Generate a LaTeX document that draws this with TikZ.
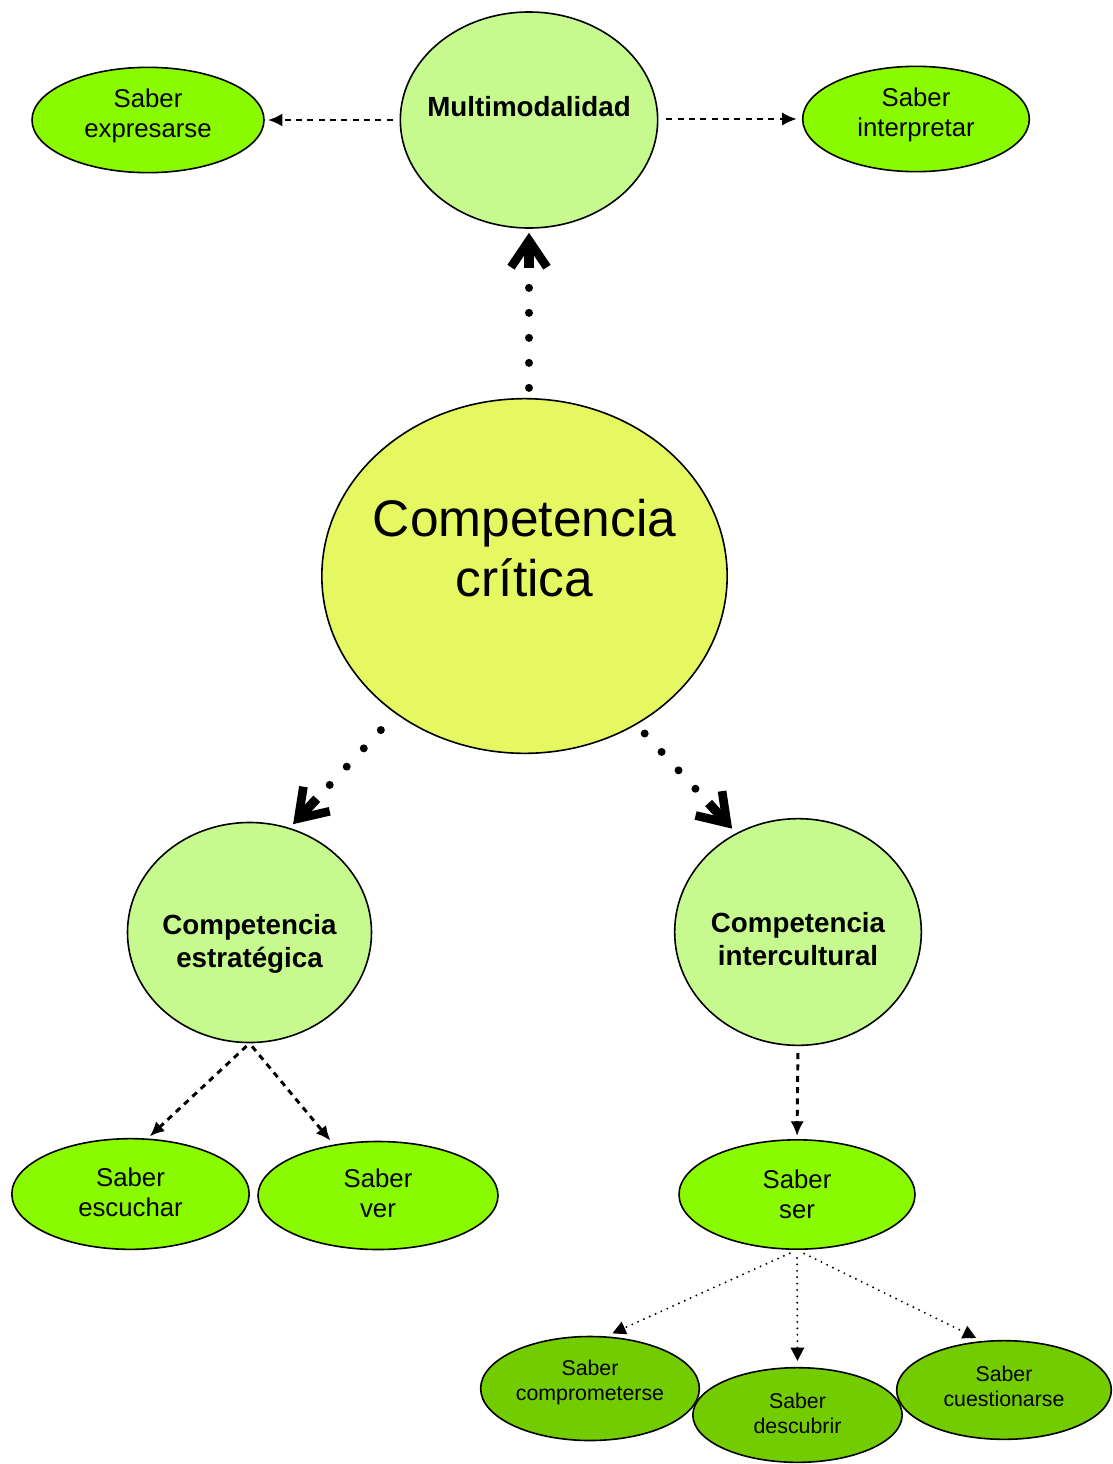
\documentclass[tikz,border=0pt]{standalone}
\usepackage{fontspec}
\setmainfont{Liberation Sans}
\usetikzlibrary{shapes.geometric, arrows.meta, positioning, shapes}
\definecolor{pale}{RGB}{198,250,142}
\definecolor{lime}{RGB}{137,250,0}
\definecolor{core}{RGB}{229,248,98}
\definecolor{moss}{RGB}{115,204,0}

\begin{document}
\begin{tikzpicture}[x=0.75pt, y=-0.75pt]
\tikzstyle{bubble} = [ellipse, draw, line width=1.2pt, inner sep=0pt]
\tikzstyle{txt} = [font=\fontsize{19.3}{22.5}\selectfont, align=center]
\tikzstyle{boldtxt} = [font=\bfseries\fontsize{20.8}{24.7}\selectfont, align=center]
\tikzstyle{bigtxt} = [font=\fontsize{38.6}{45}\selectfont, align=center]
\tikzstyle{smalltxt} = [font=\fontsize{16}{19}\selectfont, align=center]
\tikzstyle{dashline} = [draw, line width=2.2pt, dash pattern=on 4.5pt off 4pt, -{Latex[length=11pt, width=10pt]}]
\tikzstyle{bigdots} = [draw, line width=6pt, line cap=round, dash pattern=on 0pt off 18.75pt,
    -{Rectangle[length=16pt, width=5pt, sep=-19pt] Straight Barb[length=20pt, width=27pt, line width=6.5pt]}]
\tikzstyle{dots} = [draw, line width=1.6pt, line cap=round, dash pattern=on 0pt off 4.8pt,
    -{Triangle[length=10pt, width=10pt]}]
    \path[fill=white, use as bounding box] (0,0) rectangle (1113,1464);

    % Place nodes
    \node [bubble, fill=core, minimum width=304pt, minimum height=266pt,
        label={[bigtxt, yshift=21pt]center:Competencia\\crítica}] (critica) at (524.5,576) {};
    \node [bubble, fill=pale, minimum width=193pt, minimum height=162pt,
        label={[boldtxt, yshift=9.75pt]center:Multimodalidad}] (multi) at (529,120) {};
    \node [bubble, fill=lime, minimum width=174pt, minimum height=79pt,
        label={[txt, yshift=3pt]center:Saber\\expresarse}] (expresarse) at (148,120) {};
    \node [bubble, fill=lime, minimum width=170pt, minimum height=79pt,
        label={[txt, yshift=3pt]center:Saber\\interpretar}] (interpretar) at (916,119) {};
    \node [bubble, fill=pale, minimum width=183pt, minimum height=165pt,
        label={[boldtxt, yshift=-8.25pt]center:Competencia\\estratégica}] (estrategica) at (249.5,932.5) {};
    \node [bubble, fill=pale, minimum width=185pt, minimum height=170pt,
        label={[boldtxt, yshift=-5.25pt]center:Competencia\\intercultural}] (intercultural) at (798,932) {};
    \node [bubble, fill=lime, minimum width=178pt, minimum height=83pt,
        label={[txt, yshift=1.5pt]center:Saber\\escuchar}] (escuchar) at (130.5,1194) {};
    \node [bubble, fill=lime, minimum width=180pt, minimum height=81pt,
        label={[txt, yshift=1.5pt]center:Saber\\ver}] (ver) at (378,1195.5) {};
    \node [bubble, fill=lime, minimum width=177pt, minimum height=82pt,
        label={[txt]center:Saber\\ser}] (ser) at (797,1194.5) {};
    \node [bubble, fill=moss, minimum width=164pt, minimum height=78pt,
        label={[smalltxt, yshift=4.5pt]center:Saber\\comprometerse}] (comprometerse) at (590,1388.5) {};
    \node [bubble, fill=moss, minimum width=157pt, minimum height=71pt,
        label={[smalltxt, yshift=1pt]center:Saber\\descubrir}] (descubrir) at (797.5,1415) {};
    \node [bubble, fill=moss, minimum width=161pt, minimum height=74pt,
        label={[smalltxt, yshift=2.5pt]center:Saber\\cuestionarse}] (cuestionarse) at (1004,1390) {};

%paths
    \path [dashline, shorten <=5.25pt, shorten >=2.25pt] (multi.west) -- (expresarse.east);
    \path [dashline, shorten <=6pt, shorten >=3.75pt] (interpretar.west -| multi.east) -- (interpretar.west);
    \path [bigdots, shorten <=7.5pt, shorten >=3pt] (multi.south |- critica.north) -- (multi.south);
    \path [bigdots, shorten <=16.5pt, shorten >=3.75pt] (critica.227) -- (estrategica.69);
    \path [bigdots, shorten <=9pt, shorten >=4.5pt] (critica.307) -- (intercultural.122);
    \path [dashline, shorten <=3pt, shorten >=2.25pt] (estrategica.south) -- (escuchar.73);
    \path [dashline, shorten <=3pt, shorten >=3.75pt] (estrategica.south) -- (ver.131);
    \path [dashline, shorten <=5.25pt, shorten >=2.25pt] (intercultural.south) -- (ser.north);
    \path [dots, shorten <=6pt, shorten >=5.25pt] (ser.south) -- (comprometerse.73);
    \path [dots, shorten <=6pt, shorten >=4.5pt] (ser.south) -- (descubrir.north);
    \path [dots, shorten <=6pt, shorten >=5pt] (ser.south) -- (cuestionarse.114);

\end{tikzpicture}
\end{document}
